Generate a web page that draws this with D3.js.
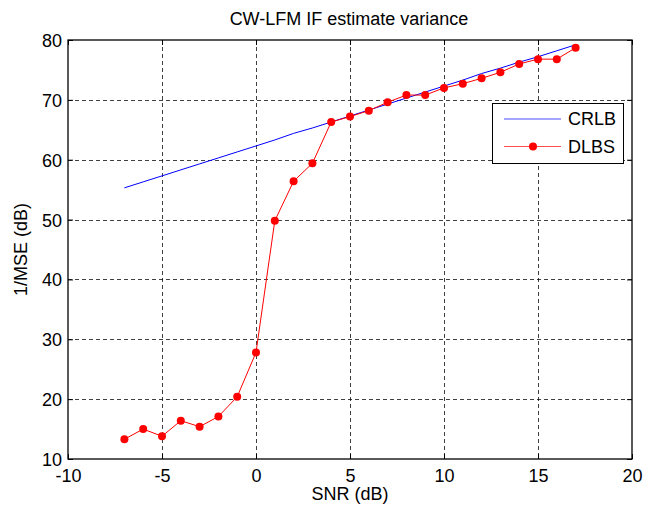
<!DOCTYPE html>
<html>
<head>
<meta charset="utf-8">
<script src="https://cdn.jsdelivr.net/npm/d3@7"></script>
<style>
  html, body { margin: 0; padding: 0; background: #fff; }
  svg text { font-family: "Liberation Sans", Arial, sans-serif; fill: #000; }
</style>
</head>
<body>
<svg id="chart" width="652" height="509"></svg>
<script>
// SNR sweep (dB)
const snr = [-7, -6, -5, -4, -3, -2, -1, 0, 1, 2, 3, 4, 5, 6, 7, 8, 9, 10, 11, 12, 13, 14, 15, 16, 17];
// Cramer-Rao lower bound, 1/MSE in dB
const crlb = [55.3, 56.3, 57.3, 58.3, 59.3, 60.3, 61.3, 62.3, 63.3, 64.4, 65.3, 66.3, 67.3, 68.3, 69.3, 70.3, 71.3, 72.3, 73.3, 74.4, 75.3, 76.3, 77.2, 78.2, 79.2];
// DLBS estimator, 1/MSE in dB
const dlbs = [13.3, 15.0, 13.8, 16.4, 15.4, 17.1, 20.4, 27.8, 49.8, 56.4, 59.4, 66.3, 67.2, 68.2, 69.6, 70.8, 70.8, 72.0, 72.7, 73.6, 74.6, 76.0, 76.8, 76.8, 78.7];
const xTicks = [-10, -5, 0, 5, 10, 15, 20];
const yTicks = [10, 20, 30, 40, 50, 60, 70, 80];
const seriesNames = ["CRLB", "DLBS"];

const svg = d3.select("#chart");
const plotL = 68, plotR = 632, plotT = 40, plotB = 459;
const fs = 18;

const x = d3.scaleLinear().domain([-10, 20]).range([plotL, plotR]);
const y = d3.scaleLinear().domain([10, 80]).range([plotB, plotT]);
const crisp = v => Math.round(v) + 0.5;
const plain = d => String(d);   // hyphen-minus labels

// grid
const grid = svg.append("g").attr("stroke", "#000").attr("stroke-width", 1)
  .attr("stroke-dasharray", "4,3").attr("stroke-opacity", 0.75);
xTicks.slice(1, -1).forEach(t => {
  grid.append("line").attr("x1", crisp(x(t))).attr("x2", crisp(x(t)))
    .attr("y1", plotT).attr("y2", plotB);
});
yTicks.slice(1, -1).forEach(t => {
  grid.append("line").attr("y1", crisp(y(t))).attr("y2", crisp(y(t)))
    .attr("x1", plotL).attr("x2", plotR);
});

// axes with inward ticks
const xAxis = d3.axisBottom(x).tickValues(xTicks).tickFormat(plain).tickSizeInner(-5).tickSizeOuter(0).tickPadding(10);
const yAxis = d3.axisLeft(y).tickValues(yTicks).tickFormat(plain).tickSizeInner(-5).tickSizeOuter(0).tickPadding(6);
const gx = svg.append("g").attr("transform", `translate(0,${plotB})`).call(xAxis);
const gy = svg.append("g").attr("transform", `translate(${plotL},0)`).call(yAxis);
svg.append("g").attr("transform", `translate(0,${plotT})`)
  .call(d3.axisTop(x).tickValues(xTicks).tickSizeInner(-5).tickSizeOuter(0).tickFormat(""));
svg.append("g").attr("transform", `translate(${plotR},0)`)
  .call(d3.axisRight(y).tickValues(yTicks).tickSizeInner(-5).tickSizeOuter(0).tickFormat(""));
svg.selectAll(".domain").remove();
svg.selectAll(".tick line").attr("stroke", "#000");
[gx, gy].forEach(g => g.selectAll("text")
  .style("font-family", "'Liberation Sans', Arial, sans-serif").style("font-size", fs + "px").attr("fill", "#000"));
gy.selectAll("text").attr("dy", "0.36em");

// box
svg.append("rect").attr("x", plotL).attr("y", plotT).attr("width", plotR - plotL).attr("height", plotB - plotT)
  .attr("fill", "none").attr("stroke", "#000").attr("stroke-width", 1.3);

// series
const line = d3.line().x(d => x(d[0])).y(d => y(d[1]));
svg.append("path").datum(snr.map((s, i) => [s, crlb[i]]))
  .attr("d", line).attr("fill", "none").attr("stroke", "#0000ff").attr("stroke-width", 1);
const dl = snr.map((s, i) => [s, dlbs[i]]);
svg.append("path").datum(dl)
  .attr("d", line).attr("fill", "none").attr("stroke", "#ff0000").attr("stroke-width", 1);
svg.append("g").selectAll("circle").data(dl).join("circle")
  .attr("cx", d => x(d[0])).attr("cy", d => y(d[1])).attr("r", 4).attr("fill", "#ff0000");

// title and labels
svg.append("text").attr("x", (plotL + plotR) / 2 - 1).attr("y", 25).attr("text-anchor", "middle")
  .style("font-size", fs + "px").text("CW-LFM IF estimate variance");
svg.append("text").attr("x", (plotL + plotR) / 2).attr("y", 500).attr("text-anchor", "middle")
  .style("font-size", fs + "px").text("SNR (dB)");
svg.append("text").attr("transform", `translate(27,${(plotT + plotB) / 2}) rotate(-90)`)
  .attr("text-anchor", "middle").style("font-size", fs + "px").text("1/MSE (dB)");

// legend
const lg = svg.append("g");
lg.append("rect").attr("x", 492.5).attr("y", 103.5).attr("width", 131).attr("height", 60)
  .attr("fill", "#fff").attr("stroke", "#000").attr("stroke-width", 1);
const legendColors = ["#0000ff", "#ff0000"];
seriesNames.forEach((name, i) => {
  const ly = 119 + i * 27.5;
  lg.append("line").attr("x1", 504).attr("x2", 561).attr("y1", ly).attr("y2", ly)
    .attr("stroke", legendColors[i]).attr("stroke-opacity", 0.7).attr("stroke-width", 1);
  if (i === 1) lg.append("circle").attr("cx", 533).attr("cy", ly).attr("r", 4).attr("fill", "#ff0000");
  lg.append("text").attr("x", 568).attr("y", ly).attr("dy", "0.36em")
    .style("font-size", fs + "px").text(name);
});
</script>
</body>
</html>
